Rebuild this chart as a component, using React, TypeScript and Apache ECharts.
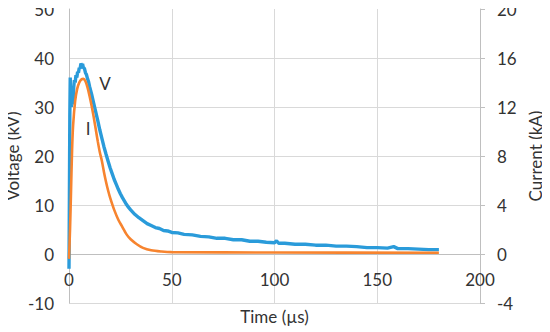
import React, { useEffect, useRef } from "react";
import * as echarts from "echarts";

const timeTicks = { min: 0, max: 200, interval: 50 };
const voltageTicks = { min: -10, max: 50, interval: 10 };
const currentTicks = { min: -4, max: 20, interval: 4 };

// Voltage (kV) vs time (µs)
const voltage: [number, number][] = [
  [0, -3], [0.2, 12], [0.4, 28], [0.6, 36], [0.8, 31], [1.0, 34], [1.2, 30], [1.4, 33],
  [1.6, 31.5], [1.8, 32], [2.0, 30.5], [2.3, 34], [2.6, 35.5], [3.0, 35], [3.4, 36.5],
  [3.8, 36], [4.2, 37.2], [4.6, 37], [5.0, 38], [5.4, 37.8], [5.8, 38.9], [6.2, 38.4],
  [6.6, 38.8], [7.0, 38], [7.5, 37.9], [8, 37], [8.5, 36.6], [9, 35.8], [9.5, 35.2],
  [10, 34.2], [11, 32.6], [12, 30.8], [13, 29], [14, 27.2], [15, 25.3], [16, 23.6],
  [17, 21.9], [18, 20.4], [19, 19], [20, 17.6], [21, 16.4], [22, 15.2], [23, 14.2],
  [24, 13.2], [25, 12.3], [26, 11.5], [27, 10.8], [28, 10.1], [29, 9.5], [30, 9.0],
  [32, 8.1], [34, 7.4], [36, 6.8], [38, 6.2], [40, 5.8], [42, 5.4], [44, 5.2], [46, 4.8],
  [48, 4.7], [50, 4.4], [53, 4.3], [56, 4.0], [60, 3.9], [64, 3.6], [68, 3.5], [72, 3.2],
  [76, 3.2], [80, 2.9], [84, 2.9], [88, 2.6], [92, 2.6], [96, 2.4], [100, 2.3], [101, 2.7],
  [102, 2.2], [105, 2.2], [110, 2.0], [115, 2.0], [120, 1.8], [125, 1.8], [130, 1.6],
  [135, 1.6], [140, 1.5], [145, 1.3], [150, 1.3], [155, 1.2], [158, 1.5], [160, 1.1],
  [165, 1.1], [170, 1.0], [175, 0.9], [180, 0.9],
];

// Current (kA) vs time (µs)
const current: [number, number][] = [
  [0, -0.4], [0.5, 2], [1, 5.2], [1.5, 8.5], [2, 10.5], [3, 12.5], [4, 13.5], [5, 14.0],
  [6, 14.25], [7, 14.3], [8, 14.1], [9, 13.6], [10, 12.9], [11, 12.1], [12, 11.2],
  [13, 10.2], [14, 9.2], [15, 8.3], [16, 7.6], [17, 6.7], [18, 5.9], [19, 5.2], [20, 4.6],
  [22, 3.6], [24, 2.8], [26, 2.2], [28, 1.6], [30, 1.2], [33, 0.8], [36, 0.5], [40, 0.3],
  [45, 0.2], [50, 0.15], [100, 0.12], [180, 0.1],
];

const FONT = "Lato";
const TEXT = "#333333";
const GRID = "#D9D9D9";
const AXIS = "#BFBFBF";
const FS = 17;

export default function App() {
  const ref = useRef<HTMLDivElement>(null);
  useEffect(() => {
    if (!ref.current) return;
    const chart = echarts.init(ref.current, undefined, { renderer: "svg" });
    chart.setOption({
      animation: false,
      grid: { left: 69, right: 70, top: 9, bottom: 29, outerBoundsMode: "none", containLabel: false },
      textStyle: { fontFamily: FONT },
      xAxis: {
        type: "value",
        ...timeTicks,
        offset: -49,
        name: "Time (µs)",
        nameLocation: "middle",
        nameGap: 54,
        nameTextStyle: { fontSize: FS, color: TEXT, fontFamily: FONT },
        axisLine: { show: true, onZero: false, lineStyle: { color: AXIS } },
        axisTick: { show: false },
        axisLabel: { fontSize: FS, color: TEXT, margin: 17, fontFamily: FONT },
        splitLine: { show: true, lineStyle: { color: GRID } },
      },
      yAxis: [
        {
          type: "value",
          ...voltageTicks,
          name: "Voltage (kV)",
          nameLocation: "middle",
          nameRotate: 90,
          nameGap: 48,
          nameMoveOverlap: false,
          nameTextStyle: { fontSize: FS, color: TEXT, fontFamily: FONT },
          axisLine: { show: true, onZero: false, lineStyle: { color: AXIS } },
          axisTick: { show: false },
          axisLabel: { fontSize: FS, color: TEXT, margin: 15, fontFamily: FONT },
          splitLine: { show: true, showMaxLine: false, lineStyle: { color: GRID } },
        },
        {
          type: "value",
          position: "right",
          ...currentTicks,
          name: "Current (kA)",
          nameLocation: "middle",
          nameRotate: 90,
          nameGap: 47,
          nameMoveOverlap: false,
          nameTextStyle: { fontSize: FS, color: TEXT, fontFamily: FONT },
          axisLine: { show: true, onZero: false, lineStyle: { color: AXIS } },
          axisTick: { show: true, length: 5, lineStyle: { color: AXIS } },
          axisLabel: { fontSize: FS, color: TEXT, margin: 17, fontFamily: FONT },
          splitLine: { show: false },
        },
      ],
      series: [
        {
          name: "V",
          type: "line",
          data: voltage,
          yAxisIndex: 0,
          showSymbol: false,
          lineStyle: { color: "#2A9BDA", width: 3.4 },
          itemStyle: { color: "#2A9BDA" },
        },
        {
          name: "I",
          type: "line",
          data: current,
          yAxisIndex: 1,
          showSymbol: false,
          smooth: 0.3,
          lineStyle: { color: "#F7842F", width: 2.6 },
          itemStyle: { color: "#F7842F" },
        },
      ],
      graphic: [
        {
          type: "text",
          x: 105,
          y: 83,
          style: { text: "V", fontSize: FS, fill: TEXT, fontFamily: FONT, align: "center", verticalAlign: "middle" },
        },
        {
          type: "text",
          x: 88,
          y: 128,
          style: { text: "I", fontSize: FS, fill: TEXT, fontFamily: FONT, align: "center", verticalAlign: "middle" },
        },
      ],
    });
    return () => chart.dispose();
  }, []);
  return <div ref={ref} style={{ width: 550, height: 332, marginLeft: -8, marginTop: -8 }} />;
}
